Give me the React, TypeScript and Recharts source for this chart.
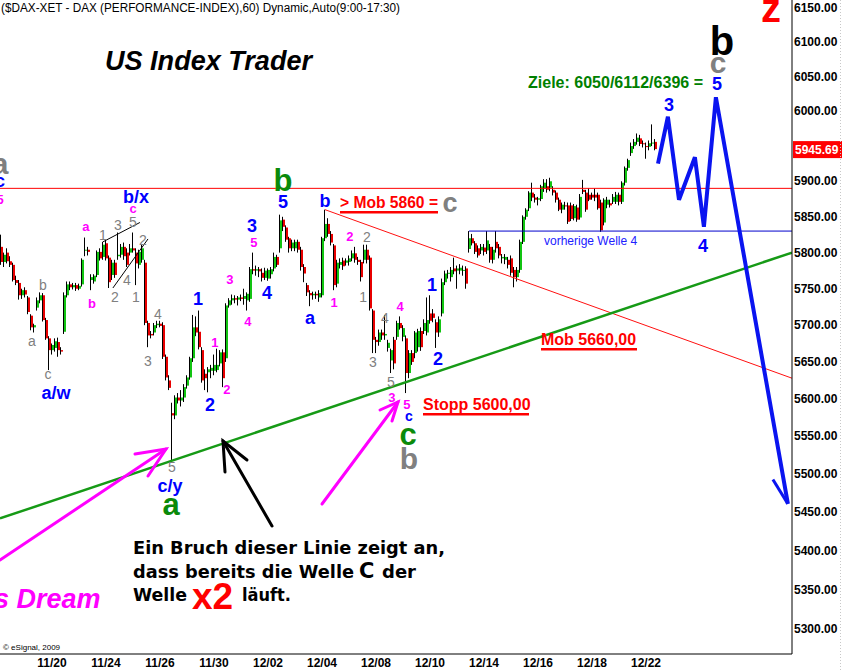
import React from 'react';
import { ComposedChart, Bar, Line, Scatter, XAxis, YAxis, ReferenceLine } from 'recharts';

// ---------- hourly candles (DAX, 60 min) ----------
const OPEN = [
  5808, 5787, 5800, 5788, 5783, 5762, 5758, 5741, 5748, 5738, 5713, 5697, 5724, 5734, 5741, 5707, 5682, 5666, 5669, 5677,
  5666, 5691, 5741, 5756, 5752, 5755, 5750, 5756, 5803, 5804, 5762, 5760, 5769, 5801, 5794, 5813, 5793, 5769, 5786, 5795,
  5797, 5808, 5800, 5800, 5806, 5800, 5783, 5790, 5786, 5703, 5688, 5690, 5700, 5702, 5700, 5657, 5625, 5581, 5578, 5602,
  5598, 5602, 5618, 5629, 5655, 5697, 5691, 5666, 5634, 5636, 5638, 5638, 5639, 5648, 5663, 5655, 5727, 5734, 5737, 5735,
  5738, 5736, 5734, 5736, 5777, 5775, 5777, 5772, 5765, 5764, 5770, 5778, 5794, 5806, 5846, 5835, 5820, 5806, 5806, 5815,
  5804, 5780, 5755, 5744, 5741, 5743, 5738, 5741, 5820, 5840, 5826, 5810, 5757, 5783, 5789, 5786, 5787, 5792, 5799, 5790,
  5787, 5790, 5804, 5793, 5720, 5680, 5677, 5690, 5686, 5669, 5652, 5680, 5684, 5703, 5684, 5682, 5635, 5662, 5662, 5670,
  5692, 5692, 5690, 5716, 5716, 5704, 5690, 5716, 5759, 5771, 5766, 5778, 5775, 5775, 5775, 5778, 5805, 5820, 5813, 5806,
  5803, 5807, 5803, 5808, 5790, 5815, 5808, 5792, 5790, 5790, 5792, 5776, 5766, 5776, 5815, 5850, 5862, 5884, 5877, 5874,
  5875, 5890, 5893, 5891, 5888, 5884, 5874, 5860, 5866, 5866, 5866, 5848, 5863, 5849, 5888, 5884, 5881, 5881, 5881, 5881,
  5870, 5842, 5867, 5869, 5871, 5871, 5881, 5871, 5898, 5919, 5940, 5950, 5956, 5961, 5954, 5950, 5949, 5954, 5956,
];
const HIGH = [
  5825, 5800, 5806, 5795, 5786, 5768, 5762, 5750, 5752, 5740, 5715, 5702, 5738, 5745, 5744, 5710, 5685, 5675, 5682, 5683,
  5670, 5745, 5760, 5760, 5758, 5758, 5757, 5792, 5821, 5808, 5770, 5770, 5803, 5806, 5815, 5818, 5796, 5790, 5790, 5828,
  5812, 5814, 5806, 5812, 5828, 5806, 5804, 5812, 5790, 5706, 5692, 5703, 5706, 5706, 5704, 5660, 5632, 5595, 5605, 5608,
  5612, 5620, 5632, 5657, 5714, 5712, 5720, 5670, 5640, 5643, 5646, 5660, 5668, 5666, 5667, 5730, 5737, 5742, 5741, 5740,
  5742, 5750, 5745, 5780, 5800, 5782, 5780, 5778, 5779, 5778, 5780, 5800, 5797, 5853, 5850, 5838, 5822, 5818, 5818, 5818,
  5808, 5784, 5758, 5748, 5746, 5746, 5748, 5822, 5860, 5848, 5830, 5812, 5790, 5792, 5793, 5792, 5796, 5803, 5808, 5794,
  5790, 5811, 5811, 5796, 5722, 5684, 5694, 5694, 5714, 5680, 5668, 5684, 5706, 5712, 5700, 5686, 5666, 5666, 5692, 5695,
  5697, 5708, 5738, 5741, 5722, 5708, 5712, 5764, 5775, 5776, 5780, 5793, 5782, 5784, 5782, 5781, 5830, 5826, 5816, 5810,
  5812, 5812, 5830, 5812, 5808, 5830, 5812, 5798, 5798, 5794, 5796, 5780, 5780, 5818, 5852, 5862, 5886, 5898, 5882, 5878,
  5895, 5903, 5903, 5905, 5893, 5887, 5877, 5870, 5871, 5870, 5870, 5868, 5867, 5882, 5902, 5888, 5890, 5884, 5890, 5884,
  5874, 5876, 5878, 5874, 5882, 5885, 5884, 5900, 5921, 5932, 5955, 5960, 5968, 5966, 5958, 5955, 5958, 5981, 5960,
];
const LOW = [
  5783, 5780, 5785, 5780, 5760, 5755, 5735, 5736, 5738, 5715, 5693, 5690, 5720, 5730, 5705, 5680, 5639, 5660, 5664, 5657,
  5660, 5688, 5738, 5748, 5749, 5747, 5748, 5753, 5795, 5796, 5748, 5757, 5766, 5789, 5790, 5789, 5751, 5762, 5765, 5790,
  5793, 5790, 5780, 5796, 5800, 5755, 5778, 5786, 5700, 5670, 5682, 5686, 5696, 5697, 5654, 5625, 5612, 5515, 5573, 5594,
  5590, 5596, 5614, 5626, 5650, 5685, 5667, 5622, 5612, 5609, 5628, 5632, 5636, 5644, 5616, 5650, 5724, 5728, 5730, 5727,
  5733, 5728, 5720, 5732, 5770, 5768, 5766, 5760, 5762, 5761, 5764, 5774, 5780, 5800, 5830, 5815, 5800, 5802, 5802, 5800,
  5775, 5759, 5740, 5726, 5735, 5736, 5732, 5738, 5816, 5822, 5810, 5748, 5752, 5778, 5776, 5782, 5782, 5788, 5786, 5783,
  5760, 5785, 5785, 5720, 5662, 5662, 5672, 5680, 5680, 5664, 5635, 5640, 5680, 5694, 5678, 5608, 5628, 5646, 5655, 5664,
  5665, 5688, 5686, 5702, 5704, 5669, 5684, 5712, 5755, 5764, 5760, 5770, 5750, 5770, 5768, 5750, 5800, 5810, 5798, 5793,
  5798, 5796, 5798, 5786, 5785, 5800, 5792, 5785, 5784, 5778, 5768, 5752, 5760, 5772, 5812, 5846, 5858, 5872, 5870, 5866,
  5872, 5885, 5884, 5886, 5880, 5870, 5858, 5855, 5860, 5840, 5844, 5845, 5843, 5846, 5882, 5857, 5872, 5874, 5872, 5860,
  5829, 5838, 5862, 5863, 5868, 5868, 5866, 5868, 5894, 5915, 5936, 5946, 5952, 5950, 5948, 5932, 5944, 5950, 5944,
];
const CLOSE = [
  5787, 5797, 5788, 5783, 5762, 5758, 5741, 5748, 5742, 5718, 5697, 5700, 5734, 5741, 5707, 5682, 5666, 5673, 5678, 5666,
  5664, 5741, 5756, 5752, 5755, 5750, 5754, 5790, 5804, 5801, 5766, 5768, 5801, 5792, 5811, 5792, 5759, 5786, 5769, 5797,
  5808, 5795, 5783, 5806, 5803, 5785, 5801, 5806, 5703, 5686, 5686, 5700, 5702, 5699, 5657, 5629, 5615, 5578, 5602, 5598,
  5602, 5616, 5629, 5655, 5697, 5690, 5670, 5625, 5628, 5640, 5642, 5646, 5646, 5663, 5628, 5727, 5734, 5737, 5735, 5738,
  5736, 5740, 5743, 5777, 5775, 5777, 5774, 5765, 5775, 5776, 5777, 5794, 5783, 5845, 5836, 5818, 5806, 5814, 5815, 5804,
  5780, 5771, 5745, 5741, 5743, 5741, 5744, 5820, 5840, 5826, 5814, 5755, 5786, 5787, 5781, 5789, 5792, 5799, 5790, 5787,
  5766, 5804, 5790, 5723, 5680, 5677, 5690, 5686, 5688, 5676, 5666, 5648, 5703, 5696, 5696, 5635, 5662, 5650, 5690, 5692,
  5670, 5703, 5707, 5706, 5710, 5690, 5708, 5759, 5771, 5772, 5776, 5774, 5778, 5779, 5776, 5757, 5820, 5813, 5801, 5796,
  5808, 5801, 5817, 5790, 5804, 5806, 5796, 5794, 5794, 5783, 5772, 5766, 5776, 5815, 5850, 5860, 5884, 5877, 5874, 5876,
  5893, 5898, 5888, 5900, 5884, 5874, 5860, 5867, 5865, 5843, 5847, 5865, 5846, 5878, 5885, 5860, 5874, 5877, 5877, 5862,
  5831, 5874, 5874, 5866, 5878, 5881, 5871, 5898, 5919, 5930, 5950, 5956, 5962, 5953, 5953, 5949, 5954, 5955, 5945.69,
];
const LAST_PRICE = 5945.69;

// ---------- axes ----------
const DATE_TICKS = [18, 36, 54, 72, 90, 108, 126, 144, 162, 180, 198, 216];
const DATE_LABELS = ['11/20', '11/24', '11/26', '11/30', '12/02', '12/04', '12/08', '12/10', '12/14', '12/16', '12/18', '12/22'];
const PRICE_TICKS = [5300, 5350, 5400, 5450, 5500, 5550, 5600, 5650, 5700, 5750, 5800, 5850, 5900, 6000, 6050, 6100, 6150];

// ---------- drawn lines (bar index, price) ----------
const PROJ_I = [220, 223.3, 227, 232.3, 235.3, 239.3, 263.3];
const PROJ_P = [5925, 5992, 5874, 5934, 5836, 6020, 5461];
const PROJ_BARB = [{ x: 258.3, y: 5493 }, { x: 263.3, y: 5461 }];
const GREEN_TREND = [{ x: 0.67, y: 5442 }, { x: 264.66, y: 5800 }];
const RED_TREND = [{ x: 109, y: 5860 }, { x: 264.66, y: 5628 }];
const WEDGE_UP = [{ x: 35, y: 5815 }, { x: 47.3, y: 5842 }];
const WEDGE_LOW = [{ x: 38.3, y: 5751 }, { x: 50, y: 5819 }];
const RED_LEVEL = 5890;
const BLUE_LEVEL = [{ x: 157, y: 5830 }, { x: 264.66, y: 5830 }];

// ---------- wave labels (bar index, price, text) ----------
const BLUE_LABELS = [
  { i: 19.3, p: 5609, t: 'a/w' }, { i: 46, p: 5878, t: 'b/x' }, { i: 57.3, p: 5485, t: 'c/y' },
  { i: 66.7, p: 5737, t: '1' }, { i: 70.7, p: 5593, t: '2' }, { i: 84.7, p: 5838, t: '3' },
  { i: 89.7, p: 5745, t: '4' }, { i: 95, p: 5871, t: '5' }, { i: 104, p: 5708, t: 'a' },
  { i: 109, p: 5873, t: 'b' }, { i: 144.7, p: 5756, t: '1' }, { i: 146.7, p: 5655, t: '2' },
  { i: 223.7, p: 6009, t: '3' }, { i: 235, p: 5810, t: '4' }, { i: 239.7, p: 6040, t: '5' },
  { i: 0.67, p: 5898, t: 'c' },
];
const BLUE_SMALL_LABELS = [{ i: 137, p: 5575, t: 'c' }];
const MAGENTA_LABELS = [
  { i: 29.3, p: 5835, t: 'a' }, { i: 31.3, p: 5730, t: 'b' }, { i: 45, p: 5860, t: 'c' },
  { i: 72.3, p: 5676, t: '1' }, { i: 76.3, p: 5613, t: '2' }, { i: 77.3, p: 5763, t: '3' },
  { i: 83.3, p: 5705, t: '4' }, { i: 85.3, p: 5814, t: '5' }, { i: 112, p: 5731, t: '1' },
  { i: 117.3, p: 5822, t: '2' }, { i: 134, p: 5726, t: '4' }, { i: 131.3, p: 5602, t: '3' },
  { i: 136.3, p: 5593, t: '5' }, { i: 0.67, p: 5874, t: '5' },
];
const GRAY_LABELS = [
  { i: 16.7, p: 5632, t: 'c' }, { i: 11.3, p: 5677, t: 'a' }, { i: 15, p: 5755, t: 'b' },
  { i: 35, p: 5825, t: '1' }, { i: 40, p: 5839, t: '3' }, { i: 45, p: 5843, t: '5' },
  { i: 39, p: 5738, t: '2' }, { i: 43, p: 5762, t: '4' }, { i: 48.3, p: 5817, t: '2' },
  { i: 46, p: 5738, t: '1' }, { i: 53.3, p: 5715, t: '4' }, { i: 50, p: 5651, t: '3' },
  { i: 58, p: 5509, t: '5' }, { i: 123, p: 5822, t: '2' }, { i: 121.7, p: 5738, t: '1' },
  { i: 125, p: 5650, t: '3' }, { i: 129, p: 5710, t: '4' }, { i: 131, p: 5623, t: '5' },
];
const BIG_GREEN_LABELS = [{ i: 57.7, p: 5457, t: 'a' }, { i: 95, p: 5902, t: 'b' }, { i: 136.7, p: 5549, t: 'c' }];
const BIG_GRAY_LABELS = [{ i: 137, p: 5521, t: 'b' }, { i: 240, p: 6067, t: 'c' }, { i: 0.67, p: 5921, t: 'a' }];
const BIG_BLACK_LABELS = [{ i: 241.3, p: 6103, t: 'b' }];
const BIG_RED_LABELS = [{ i: 257.7, p: 6145, t: 'z' }];

// ---------- styles ----------
const FONT = "'Liberation Sans', Arial, sans-serif";
const FONT_WIDE = "'DejaVu Sans', Verdana, sans-serif";
const UP = '#12C412';
const DOWN = '#E80000';

const candles = OPEN.map((o, k) => ({ i: k + 1, o, h: HIGH[k], l: LOW[k], c: CLOSE[k] }));
const projection = PROJ_I.map((i, k) => ({ i, p: PROJ_P[k] }));

const Candle = (props: any) => {
  const { x, y, width, height, payload } = props;
  if (x == null || y == null || !payload) return null;
  const { o, h, l, c } = payload;
  const cx = Math.round(x + width / 2);
  const lh = Math.log(h);
  const span = lh - Math.log(l) || 1;
  const py = (v: number) => y + (height * (lh - Math.log(v))) / span;
  const yo = py(o);
  const yc = py(c);
  const top = Math.min(yo, yc);
  const bot = Math.max(yo, yc);
  return (
    <g>
      <rect x={cx - 1} y={top} width={3} height={Math.max(1, bot - top)} fill={c >= o ? UP : DOWN} />
      <rect x={cx - 1} y={y} width={1} height={Math.max(1, height)} fill="#000" />
    </g>
  );
};

const makeLabel = (fill: string, size: number, weight: string, family = FONT) => (props: any) => {
  const { cx, cy, payload } = props;
  if (cx == null || !payload) return <g />;
  const t: string = payload.t;
  const low = /^[acemnorsuvwxz]$/.test(t);
  return (
    <text x={cx} y={cy + size * (low ? 0.26 : 0.36)} textAnchor="middle" fontFamily={family}
      fontSize={size} fontWeight={weight} fill={fill}>{t}</text>
  );
};

const XTick = (props: any) => {
  const { x, y, payload } = props;
  const k = DATE_TICKS.indexOf(payload.value);
  return (
    <text x={x} y={y + 13} textAnchor="middle" fontFamily={FONT} fontWeight="bold" fontSize={12} fill="#000">
      {k >= 0 ? DATE_LABELS[k] : ''}
    </text>
  );
};

const YTick = (props: any) => {
  const { x, y, payload } = props;
  return (
    <text x={x + 2} y={y + 4} textAnchor="start" fontFamily={FONT} fontWeight="bold" fontSize={12} fill="#000">
      {Number(payload.value).toFixed(2)}
    </text>
  );
};

const PriceTag = (props: any) => {
  const vb = props.viewBox || {};
  const x0 = (vb.x ?? 0) + (vb.width ?? 0) + 1;
  const y0 = vb.y ?? 0;
  return (
    <g>
      <rect x={x0} y={y0 - 8} width={50} height={17} fill="#FF0000" />
      <text x={x0 + 2} y={y0 + 5} fontFamily={FONT} fontWeight="bold" fontSize={12} fill="#fff">
        {LAST_PRICE.toFixed(2)}
      </text>
    </g>
  );
};

export default function App() {
  return (
    <div style={{ position: 'absolute', left: 0, top: 0, width: 842, height: 670, background: '#fff' }}>
      <ComposedChart width={842} height={670} data={candles} margin={{ top: 0, right: 0, bottom: 0, left: 0 }}>
        <XAxis dataKey="i" type="number" domain={[2 / 3, 264 + 2 / 3]} allowDataOverflow ticks={DATE_TICKS}
          interval={0} tick={XTick} tickLine={false} tickSize={0} tickMargin={0}
          axisLine={{ stroke: '#000', strokeWidth: 1 }} height={16} />
        <YAxis orientation="right" scale="log" domain={[5268, 6162]} allowDataOverflow ticks={PRICE_TICKS}
          interval={0} tick={YTick} tickLine={false} tickSize={0} tickMargin={0}
          axisLine={{ stroke: '#000', strokeWidth: 1 }} width={50} />
        <ReferenceLine y={RED_LEVEL} stroke="#FF0000" strokeWidth={1} ifOverflow="hidden" />
        <ReferenceLine segment={BLUE_LEVEL} stroke="#0000CC" strokeWidth={1} ifOverflow="hidden" />
        <ReferenceLine segment={RED_TREND} stroke="#FF1010" strokeWidth={1} ifOverflow="hidden" />
        <ReferenceLine segment={GREEN_TREND} stroke="#169A16" strokeWidth={2.5} ifOverflow="hidden" />
        <ReferenceLine segment={WEDGE_UP} stroke="#000" strokeWidth={1} ifOverflow="hidden" />
        <ReferenceLine segment={WEDGE_LOW} stroke="#000" strokeWidth={1} ifOverflow="hidden" />
        <Bar dataKey={(d: any) => [d.l, d.h]} barSize={3} shape={Candle} isAnimationActive={false} />
        <Line data={projection} dataKey="p" stroke="#0A14F0" strokeWidth={4} dot={false}
          strokeLinejoin="miter" isAnimationActive={false} />
        <ReferenceLine segment={PROJ_BARB} stroke="#0A14F0" strokeWidth={3} ifOverflow="hidden" />
        <ReferenceLine y={LAST_PRICE} stroke="none" ifOverflow="visible" label={(p: any) => <PriceTag {...p} />} />
        <Scatter data={GRAY_LABELS} dataKey="p" shape={makeLabel('#808080', 14, 'normal')} isAnimationActive={false} />
        <Scatter data={MAGENTA_LABELS} dataKey="p" shape={makeLabel('#FF00FF', 13, 'bold')} isAnimationActive={false} />
        <Scatter data={BLUE_LABELS} dataKey="p" shape={makeLabel('#0000FF', 18, 'bold')} isAnimationActive={false} />
        <Scatter data={BLUE_SMALL_LABELS} dataKey="p" shape={makeLabel('#0000FF', 14, 'bold')} isAnimationActive={false} />
        <Scatter data={BIG_GREEN_LABELS} dataKey="p" shape={makeLabel('#0A8A0A', 31, 'bold')} isAnimationActive={false} />
        <Scatter data={BIG_GRAY_LABELS} dataKey="p" shape={makeLabel('#808080', 30, 'bold')} isAnimationActive={false} />
        <Scatter data={BIG_BLACK_LABELS} dataKey="p" shape={makeLabel('#000', 40, 'bold')} isAnimationActive={false} />
        <Scatter data={BIG_RED_LABELS} dataKey="p" shape={makeLabel('#FF0000', 40, 'bold')} isAnimationActive={false} />
      </ComposedChart>

      <svg width={842} height={670} style={{ position: 'absolute', left: 0, top: 0, pointerEvents: 'none' }}>
        <line x1={840.5} y1={0} x2={840.5} y2={670} stroke="#C8C8C8" strokeDasharray="1 2" />
        <text x={1} y={12} fontFamily={FONT} fontSize={12.5} fill="#000" textLength={399} lengthAdjust="spacingAndGlyphs">
          ($DAX-XET - DAX (PERFORMANCE-INDEX),60) Dynamic,Auto(9:00-17:30)
        </text>
        <text x={105} y={70} fontFamily={FONT} fontSize={28} fontWeight="bold" fontStyle="italic" fill="#000"
          textLength={207} lengthAdjust="spacingAndGlyphs">US Index Trader</text>
        <text x={528} y={88} fontFamily={FONT} fontSize={16} fontWeight="bold" fill="#008000"
          textLength={175} lengthAdjust="spacingAndGlyphs">Ziele: 6050/6112/6396 =</text>
        <text x={544} y={245} fontFamily={FONT} fontSize={12} fill="#2020FF">vorherige Welle 4</text>

        <text x={340} y={208} fontFamily={FONT} fontSize={16} fontWeight="bold" fill="#FF0000"
          textLength={98} lengthAdjust="spacingAndGlyphs">&gt; Mob 5860 =</text>
        <rect x={340} y={211} width={98} height={2.5} fill="#FF0000" />
        <text x={450} y={212} textAnchor="middle" fontFamily={FONT} fontSize={27} fontWeight="bold" fill="#808080">c</text>

        <text x={541} y={345} fontFamily={FONT} fontSize={16} fontWeight="bold" fill="#FF0000">Mob 5660,00</text>
        <rect x={541} y={348} width={96} height={2.5} fill="#FF0000" />
        <text x={423} y={410} fontFamily={FONT} fontSize={16} fontWeight="bold" fill="#FF0000">Stopp 5600,00</text>
        <rect x={423} y={413} width={106} height={2.5} fill="#FF0000" />

        <text x={133} y={554} fontFamily={FONT_WIDE} fontSize={18} fontWeight="bold" fill="#000"
          textLength={312} lengthAdjust="spacingAndGlyphs">Ein Bruch dieser Linie zeigt an,</text>
        <text x={133} y={578} fontFamily={FONT_WIDE} fontSize={18} fontWeight="bold" fill="#000"
          textLength={221} lengthAdjust="spacingAndGlyphs">dass bereits die Welle</text>
        <text x={359} y={578} fontFamily={FONT_WIDE} fontSize={21} fontWeight="bold" fill="#000">C</text>
        <text x={382} y={578} fontFamily={FONT_WIDE} fontSize={18} fontWeight="bold" fill="#000"
          textLength={34} lengthAdjust="spacingAndGlyphs">der</text>
        <text x={133} y={601} fontFamily={FONT_WIDE} fontSize={18} fontWeight="bold" fill="#000"
          textLength={54} lengthAdjust="spacingAndGlyphs">Welle</text>
        <text x={192} y={609} fontFamily={FONT} fontSize={37} fontWeight="bold" fill="#FF0000">x2</text>
        <text x={242} y={601} fontFamily={FONT_WIDE} fontSize={18} fontWeight="bold" fill="#000"
          textLength={49} lengthAdjust="spacingAndGlyphs">läuft.</text>

        <text x={-6} y={608} fontFamily={FONT} fontSize={27} fontWeight="bold" fontStyle="italic" fill="#FF00FF">s Dream</text>
        <text x={3} y={650} fontFamily={FONT} fontSize={8} fill="#000">© eSignal, 2009</text>

        <g stroke="#FF00FF" strokeWidth={3} fill="none" strokeLinecap="round">
          <line x1={0} y1={560} x2={166} y2={449} />
          <polyline points="135,454 166,449 148,476" />
          <line x1={322} y1={504} x2={398} y2={402} />
          <polyline points="380,410 398,402 392,421" />
        </g>
        <g stroke="#000" strokeWidth={3} fill="none" strokeLinecap="round">
          <line x1={272} y1={526} x2={223} y2={441} />
          <polyline points="247,460 223,441 225,472" />
        </g>
      </svg>
    </div>
  );
}
